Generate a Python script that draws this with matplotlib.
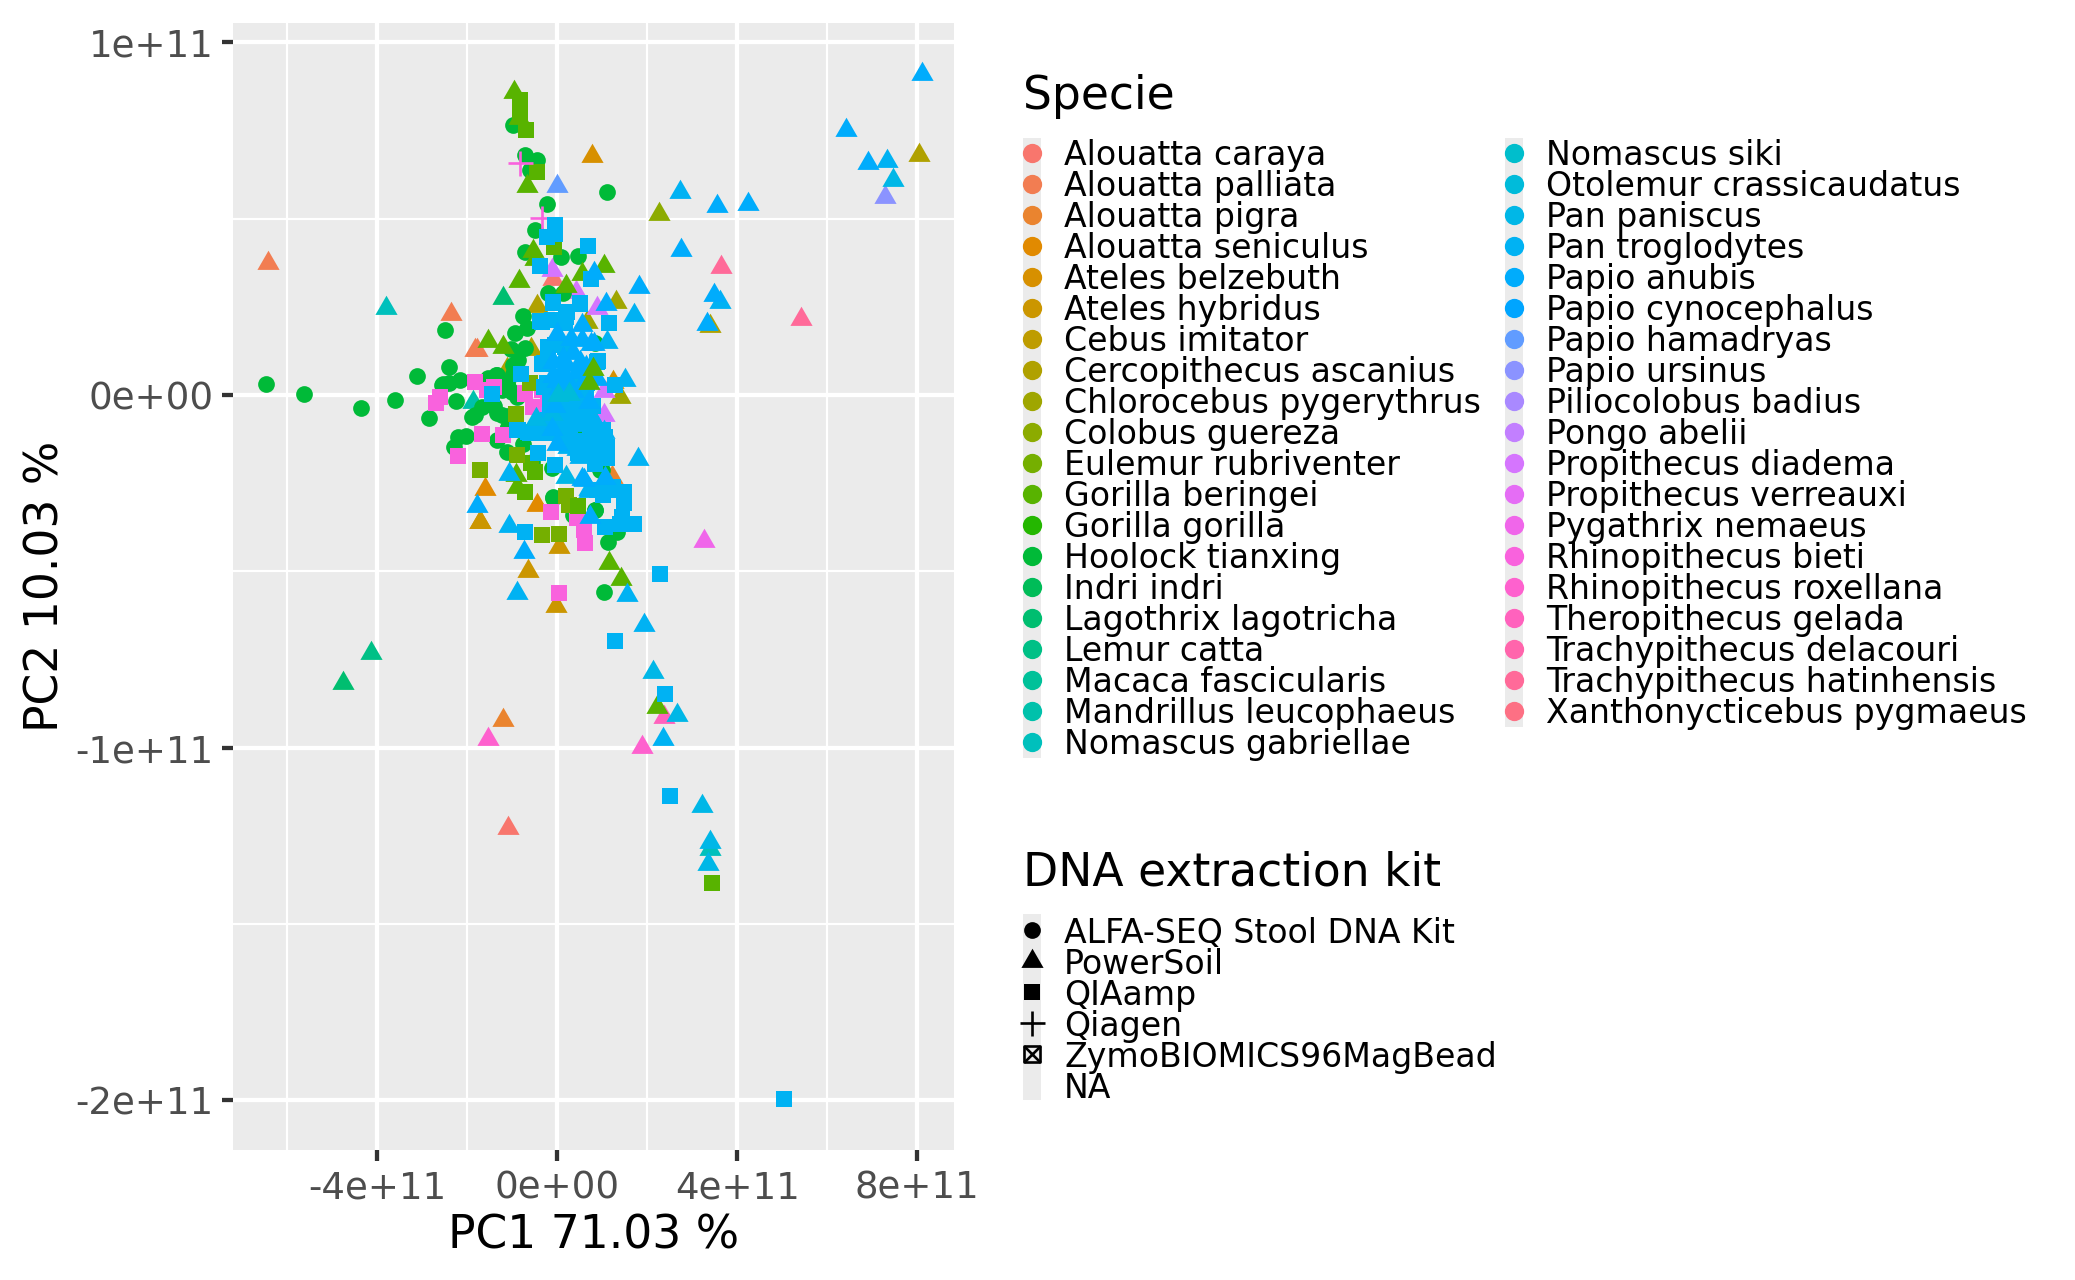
import matplotlib
matplotlib.use('Agg')
import matplotlib.pyplot as plt
import numpy as np
from matplotlib.path import Path

species = ['Alouatta caraya', 'Alouatta palliata', 'Alouatta pigra', 'Alouatta seniculus',
           'Ateles belzebuth', 'Ateles hybridus', 'Cebus imitator', 'Cercopithecus ascanius',
           'Chlorocebus pygerythrus', 'Colobus guereza', 'Eulemur rubriventer', 'Gorilla beringei',
           'Gorilla gorilla', 'Hoolock tianxing', 'Indri indri', 'Lagothrix lagotricha',
           'Lemur catta', 'Macaca fascicularis', 'Mandrillus leucophaeus', 'Nomascus gabriellae',
           'Nomascus siki', 'Otolemur crassicaudatus', 'Pan paniscus', 'Pan troglodytes',
           'Papio anubis', 'Papio cynocephalus', 'Papio hamadryas', 'Papio ursinus',
           'Piliocolobus badius', 'Pongo abelii', 'Propithecus diadema', 'Propithecus verreauxi',
           'Pygathrix nemaeus', 'Rhinopithecus bieti', 'Rhinopithecus roxellana', 'Theropithecus gelada',
           'Trachypithecus delacouri', 'Trachypithecus hatinhensis', 'Xanthonycticebus pygmaeus']
kits = ['ALFA-SEQ Stool DNA Kit', 'PowerSoil', 'QIAamp', 'Qiagen', 'ZymoBIOMICS96MagBead', 'NA']

# x in units of 1e11, y in units of 1e10
hoolock_x = [-0.97, -0.71, -0.45, -0.60, 1.11, -0.22, -0.50, -0.71, 0.09, 0.46, -2.49, -0.75, -0.93, -0.71,
             -1.02, -0.67, -2.39, -3.12, -2.16, -0.19, 0.14, 0.84, -0.86, -1.34, -1.49, -1.12, -2.41, -2.56,
             -6.47, -5.62, -4.36, -3.59, -2.84, -2.24, -2.53, -1.90, -1.82, -1.34, -1.23, -1.53, -1.36, -1.67,
             -2.19, -2.02, -2.29, -1.34, -1.12, -1.12, -0.08, -0.12, 0.84, 0.36, 1.14, 1.33, 1.05, 0.96, 0.55, -1.08,
             -1.00, -1.08, -0.97, -0.86, -0.90, -1.23, -0.97, 1.00, -0.08, 0.85, -1.40, -1.10, -0.75, -0.55]
hoolock_y = [7.67, 6.81, 6.66, 6.38, 5.75, 5.42, 4.67, 4.05, 3.92, 3.94, 1.83, 2.25, 1.75, 1.34,
             1.30, 1.89, 0.80, 0.55, 0.43, 2.88, 2.88, 1.47, 0.99, 0.57, 0.43, 0.33, 0.33, 0.28,
             0.30, 0.02, -0.36, -0.13, -0.66, -0.16, 0.31, -0.63, -0.57, -0.52, -0.57, 0.47, 0.57, -0.33,
             -1.18, -1.16, -1.47, -1.28, -1.61, -0.99, -2.88, -2.08, -3.26, -3.40, -4.16, -3.88, -5.60, -2.13, -1.09, -0.90,
             0.09, 0.24, 0.61, 1.18, -0.05, 0.14, 0.85, -2.13, -2.93, -3.26, -0.30, -0.60, -1.40, -1.90]

misc_tri_species = [0, 0, 1, 1, 1, 1, 2, 2, 3, 3, 3, 4, 4, 5, 5, 5, 5, 5,
                    7, 7, 7, 7, 7, 8, 8, 8, 9, 15, 15, 16, 18, 19, 19, 26, 27, 37, 37, 32, 32, 29,
                    30, 30, 30, 30, 30, 34, 34, 35]
misc_tri_x = [-0.10, -1.10, -6.43, -2.35, -1.82, -1.77, -1.21, 1.22, -1.59, -0.44, 0.87, 0.78, 1.25, -1.71, -0.64, 0.05, -0.03, -1.71,
              8.05, 3.39, -0.45, -0.58, -1.12, 1.31, 0.66, 1.39, 2.27, -1.21, -4.75, -4.13, -1.86, -3.79, 3.39, 0.01, 7.28, 5.42, 3.64, 3.27, 0.51, -0.34,
              -0.12, 0.42, 0.88, 1.04, 1.04, -1.53, 1.89, 2.38]
misc_tri_y = [3.29, -12.28, 3.73, 2.30, 1.29, 1.29, -9.23, -2.33, -2.67, -3.12, -0.54, 6.77, 0.36, -3.61, -4.98, -4.32, -5.97, -3.61,
              6.81, 1.97, 2.53, 1.30, 0.74, 2.65, 2.06, -0.07, 5.13, 2.75, -8.18, -7.32, -0.21, 2.47, -12.87, 5.94, 5.62, 2.16, 3.62, -4.13, 0.26, -0.40,
              3.55, 2.93, 2.46, 0.12, -0.57, -9.75, -9.99, -9.12]

gorilla_tri_x = [-0.96, -0.84, -0.66, -0.53, -0.49, 1.04, 0.55, -0.85, 0.21, -1.53, -1.19, -0.91, -0.90, 1.16, 1.43, 2.23]
gorilla_tri_y = [8.60, 7.87, 5.92, 4.09, 3.86, 3.67, 3.43, 3.24, 3.10, 1.54, 1.35, -2.27, -2.62, -4.76, -5.22, -8.86]
gorilla_sq_x = [-0.82, -0.82, -0.69, -0.45, -0.07, -0.71, -0.49, -0.57, 3.44]
gorilla_sq_y = [8.36, 7.99, 7.51, 6.33, 4.21, -2.74, -2.17, -1.94, -13.84]
gorilla_top_tri_x = [0.79, 0.70]
gorilla_top_tri_y = [0.74, 0.33]
gorilla_top_sq_x = [0.46]
gorilla_top_sq_y = [-3.15]

eulemur_sq_x = [-0.60, -0.91, -1.71, -0.90, -0.33, 0.05, 0.20, 0.27]
eulemur_sq_y = [0.33, -0.54, -2.13, -1.70, -3.97, -3.95, -2.86, -3.12]

rhino_sq_x = [-1.82, -2.59, -0.71, -2.70, -1.67, -1.21, -2.20, -1.56, -0.14, 0.59, 0.62, 0.05, 0.44, -0.71, -0.53, -1.40, -0.34, -0.20, 0.10]
rhino_sq_y = [0.38, -0.05, 0.02, -0.24, -1.11, -1.13, -1.72, 0.14, -3.31, -3.83, -4.21, -5.62, -3.50, 0.05, -0.33, 0.24, 0.14, -0.10, 0.30]
rhino_plus_x = [-0.34, -0.82]
rhino_plus_y = [5.03, 6.57]

paniscus_tri_x = [-0.47, -0.12, 0.21, 2.13, 2.66, 3.21, 3.39, 3.36, 7.47]
paniscus_tri_y = [-0.68, -0.54, -2.33, -7.85, -9.06, -11.65, -12.68, -13.30, 6.10]
otolemur_tri_x = [0.03, 0.27]
otolemur_tri_y = [0.00, 0.04]

troglodytes_tri_x = [2.73, 3.62, 1.71, 1.10, 1.52, 7.34, 1.79, 1.55, 1.93, -0.90, -1.07, 1.07, 0.70, 0.25, 0.44, 0.88, 1.04, -1.07, 2.36,
                     0.51, 0.70, 0.85, 0.36]
troglodytes_tri_y = [5.75, 2.65, 2.28, 1.49, 0.43, 6.64, -1.81, -5.67, -6.52, -5.61, -3.71, -2.38, -2.67, -1.46, -1.53, -0.87, -1.06, -2.24, -9.75,
                     -1.77, -2.71, -0.82, -0.85]
troglodytes_sq_x = [-0.04, -0.04, -0.23, 0.68, -0.38, 0.75, 1.16, -0.10, 0.50, -0.38, -0.19, 0.21, 0.92, -0.80, -0.34, 1.29, -1.45, -0.30,
                    -0.88, -0.71, 1.07, 2.29, 1.29, -0.04, -0.43, -0.86, -0.64, 1.10, 1.07, 0.96, 1.10, 0.84, 0.59, 1.25, 1.48, 1.48, 1.44,
                    1.70, 1.48, 1.03, 0.44, 0.51, -0.16, 0.21, 0.00, 0.29, -0.30, 0.66, 2.40, 2.51, 5.04,
                    -0.08, 0.50, 0.23, -0.34, -0.12, 0.18, -0.04, -0.19, -0.30, -0.23, 0.18, 0.88, 0.51,
                    -0.60, -0.23, 0.25, 0.73, 1.03, 0.99, 0.47, -0.42, -0.08, 0.58, 0.88, 1.21, 1.66, 1.40,
                    0.00, 0.30, 0.65, -0.15, 0.20, 0.55, 0.80, 0.10, 0.40, -0.20, 0.65, 0.95, 0.30, 0.65, 0.85]
troglodytes_sq_y = [4.82, 4.58, 4.47, 4.22, 3.66, 3.30, 2.05, 2.63, 2.58, 2.10, 1.37, 2.22, 0.96, 0.60, 0.88, 0.28, 0.02, 0.24,
                    -0.99, -3.88, -3.73, -5.08, -6.97, -1.99, -1.64, -0.99, -1.04, -1.47, -1.18, -1.09, -1.80, -1.75, -1.70, -2.60, -2.74, -3.07, -3.45,
                    -3.66, -3.66, -2.84, -0.14, -0.52, -0.14, -0.61, -1.09, -1.18, -1.09, 0.33, -8.49, -11.36, -19.96,
                    2.60, 2.60, 2.36, 2.08, 2.13, 2.03, 1.42, 1.37, 0.90, 0.33, 1.37, 0.95, 0.61,
                    -1.09, -1.09, -0.99, -0.90, -0.99, -1.37, -1.65, -1.65, -0.71, -0.52, -2.69, -2.69, -3.67, -3.67,
                    0.50, 0.20, 0.10, -0.35, -0.30, -0.15, -0.30, -0.75, -0.55, -0.70, -0.75, -1.60, -1.35, -1.30, -1.95]

anubis_tri_x = [8.10, 6.41, 6.90, 3.55, 4.25, 2.76, 1.83, 3.49, 3.33, 0.82, 1.09, 0.00, 0.75, 0.13, 0.13, 0.00,
                0.73, 0.55, 0.00, -1.78, -0.73, 0.59, 1.07, -0.12,
                0.55, 0.55, 0.81, 0.36, 0.14, -0.08, 0.14, 0.44, 0.88, 0.21, 0.51,
                0.30, 0.65, -0.10, 0.20, 0.60, 0.05, 0.35, -0.05, 0.70]
anubis_tri_y = [9.10, 7.52, 6.58, 5.37, 5.42, 4.12, 3.07, 2.84, 2.01, 3.45, 2.59, 1.73, 1.45, 1.02, 0.64, 0.41,
                -3.46, -2.38, -1.39, -3.14, -4.44, -2.40, -2.36, -0.96,
                1.98, 1.56, 1.45, 1.18, 1.02, 0.55, 0.60, 0.64, 0.45, 0.26, 0.93,
                1.60, 0.80, 0.95, 0.85, 0.40, 0.20, 0.10, -0.30, -0.20]

# species index, shape, x values, y values, in draw order
layers = [
    (13, 'circle', hoolock_x, hoolock_y),
    (11, 'triangle', gorilla_tri_x, gorilla_tri_y),
    (11, 'square', gorilla_sq_x, gorilla_sq_y),
    (33, 'plus', rhino_plus_x, rhino_plus_y),
    (33, 'square', rhino_sq_x, rhino_sq_y),
    (10, 'square', eulemur_sq_x, eulemur_sq_y),
    (23, 'square', troglodytes_sq_x, troglodytes_sq_y),
    (22, 'triangle', paniscus_tri_x, paniscus_tri_y),
    (23, 'triangle', troglodytes_tri_x, troglodytes_tri_y),
    (24, 'triangle', anubis_tri_x, anubis_tri_y),
    (21, 'triangle', otolemur_tri_x, otolemur_tri_y),
    (11, 'triangle', gorilla_top_tri_x, gorilla_top_tri_y),
    (11, 'square', gorilla_top_sq_x, gorilla_top_sq_y),
]


def hue_color(h, c=100, l=65):
    # same hue scale as ggplot's default discrete colours
    u = c * np.cos(np.deg2rad(h)) / (13 * l) + 0.19784
    v = c * np.sin(np.deg2rad(h)) / (13 * l) + 0.46834
    y = ((l + 16) / 116) ** 3
    x = 9 * y * u / (4 * v)
    z = -x / 3 - 5 * y + 3 * y / v
    rgb = np.array([3.240479 * x - 1.53715 * y - 0.498535 * z,
                    -0.969256 * x + 1.875992 * y + 0.041556 * z,
                    0.055648 * x - 0.204043 * y + 1.057311 * z])
    rgb = np.clip(rgb, 0, 1)
    return tuple(np.where(rgb <= 0.0031308, 12.92 * rgb, 1.055 * rgb ** (1 / 2.4) - 0.055))


colors = [hue_color(15 + 360 * i / len(species)) for i in range(len(species))]

triangle = Path([(-1, -0.577), (1, -0.577), (0, 1.155), (-1, -0.577)], closed=True)
marker_style = {
    'circle': dict(marker='o', s=145, linewidths=0),
    'square': dict(marker='s', s=145, linewidths=0),
    'triangle': dict(marker=triangle, s=340, linewidths=0),
    'plus': dict(marker='+', s=324, linewidths=1.9),
}

plt.rcParams['font.family'] = 'DejaVu Sans'
W, H = 2075, 1280
fig = plt.figure(figsize=(W / 100, H / 100), dpi=100)
ax = fig.add_axes([233 / W, 1 - 1150 / H, (954 - 233) / W, (1150 - 23) / H])
ax.set_facecolor('#EBEBEB')
for side in ax.spines.values():
    side.set_visible(False)

for idx in range(len(misc_tri_x)):
    ax.scatter(misc_tri_x[idx] * 1e11, misc_tri_y[idx] * 1e10, color=colors[misc_tri_species[idx]],
               zorder=2, **marker_style['triangle'])
for z, (sp, shape, xs, ys) in enumerate(layers):
    ax.scatter(np.array(xs) * 1e11, np.array(ys) * 1e10, color=colors[sp], zorder=3 + z * 0.01,
               **marker_style[shape])

ax.set_xlim(-7.2e11, 8.82e11)
ax.set_ylim(-21.41e10, 10.55e10)
ax.set_xticks([-4e11, 0, 4e11, 8e11], ['-4e+11', '0e+00', '4e+11', '8e+11'])
ax.set_yticks([-2e11, -1e11, 0, 1e11], ['-2e+11', '-1e+11', '0e+00', '1e+11'])
ax.set_xticks([-6e11, -2e11, 2e11, 6e11], minor=True)
ax.set_yticks([-1.5e11, -0.5e11, 0.5e11], minor=True)
ax.grid(which='major', color='white', linewidth=3.07, zorder=1)
ax.grid(which='minor', color='white', linewidth=1.54, zorder=1)
ax.set_axisbelow(True)
ax.tick_params(which='major', length=7.9, width=3.07, color='#333333', labelcolor='#4D4D4D',
               labelsize=26.7, pad=6.3)
ax.tick_params(which='minor', length=0)
ax.set_xlabel('PC1 71.03 %', fontsize=32.9, labelpad=5)
ax.set_ylabel('PC2 10.03 %', fontsize=32.9, labelpad=5)

# legends, laid out in pixels on a figure-wide axes
leg = fig.add_axes([0, 0, 1, 1])
leg.set_xlim(0, W)
leg.set_ylim(H, 0)
leg.axis('off')
leg.patch.set_alpha(0)

row_h = 31
leg.text(1023, 109, 'Specie', fontsize=32.9, va='baseline')
for col, (key_x, first, last) in enumerate([(1032, 0, 20), (1514, 20, len(species))]):
    n = last - first
    leg.fill_between([key_x - 9, key_x + 9], 138, 138 + n * row_h, color='#EBEBEB', linewidth=0)
    for i in range(first, last):
        y = 153 + (i - first) * row_h
        leg.scatter(key_x, y, s=193, marker='o', color=colors[i], linewidths=0, zorder=3)
        leg.text(key_x + 32, y + 12, species[i], fontsize=23.9, va='baseline')

leg.text(1023, 885, 'DNA extraction kit', fontsize=32.9, va='baseline')
leg.fill_between([1023, 1041], 914, 914 + 6 * row_h, color='#EBEBEB', linewidth=0)
kit_shapes = ['circle', 'triangle', 'square', 'plus', 'box', None]
for i, (name, shape) in enumerate(zip(kits, kit_shapes)):
    y = 930 + i * row_h
    if shape == 'box':
        leg.scatter(1032, y, marker='s', s=140, facecolors='none', edgecolors='black', linewidths=1.9, zorder=3)
        leg.scatter(1032, y, marker='x', s=140, color='black', linewidths=1.9, zorder=3)
    elif shape is not None:
        leg.scatter(1032, y, color='black', zorder=3, **marker_style[shape])
    leg.text(1064, y + 13, name, fontsize=23.9, va='baseline')

fig.savefig('out.png', dpi=100)
